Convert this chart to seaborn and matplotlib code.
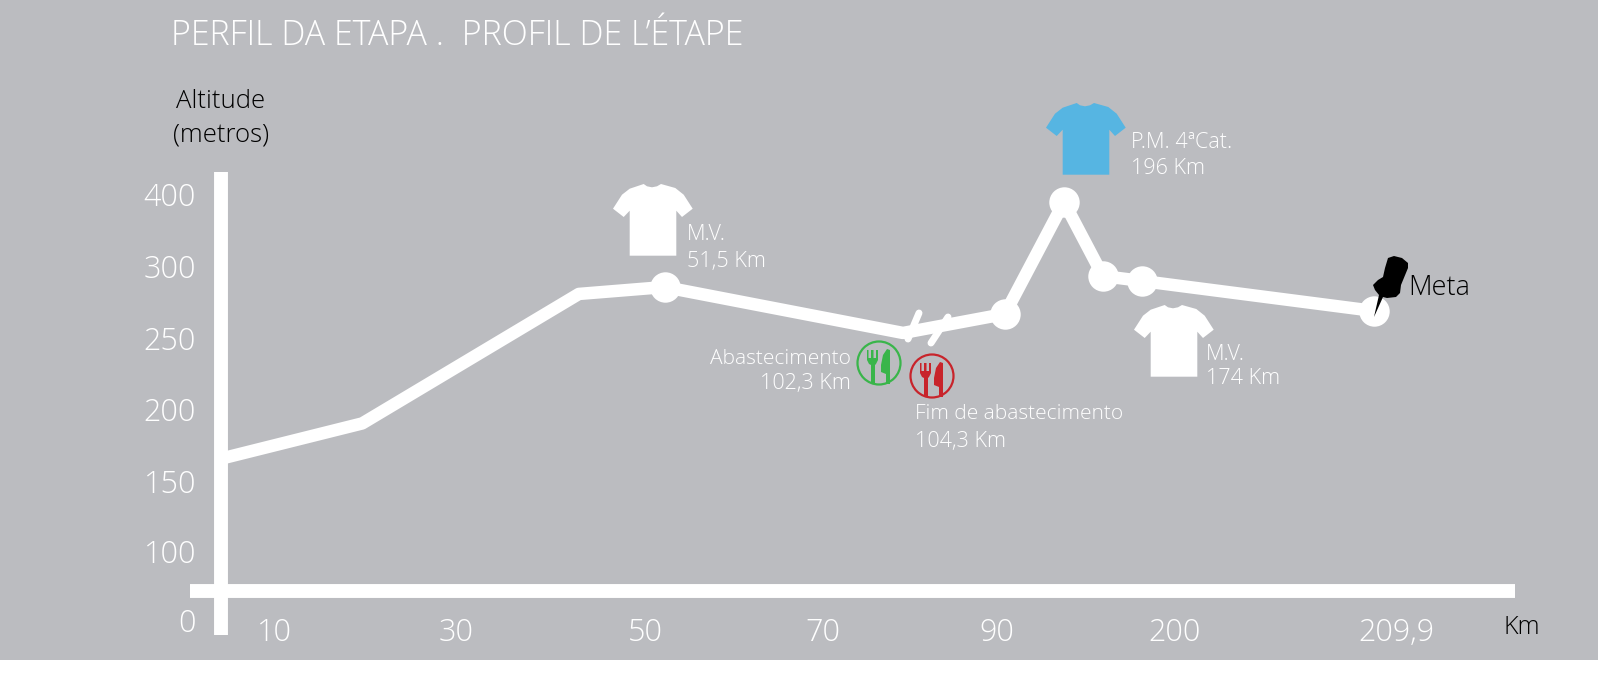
import matplotlib
matplotlib.use("Agg")
import matplotlib.pyplot as plt
import numpy as np
import pandas as pd
import seaborn as sns
from matplotlib.patches import Circle, Polygon
from matplotlib.transforms import Affine2D

# the printed axes are schematic: tick labels are not evenly spaced
x_ticks = [10, 30, 50, 70, 90, 200, 209.9]
x_labels = ["10", "30", "50", "70", "90", "200", "209,9"]
y_ticks = [0, 100, 150, 200, 250, 300, 400]
y_labels = ["0", "100", "150", "200", "250", "300", "400"]

route_km = [4.2, 19.7, 43.0, 52.2, 79.2, 94.9, 131.4, 155.5, 179.6, 208.9]
route_alt = [165.5, 190.0, 280.6, 285.4, 253.5, 266.7, 388.9, 293.0, 289.6, 268.8]
stop_km = [52.2, 94.9, 131.4, 155.5, 179.6, 208.9]
stop_alt = [285.4, 266.7, 388.9, 293.0, 289.6, 268.8]

BG = "#BBBCC0"
WHITE = "#FFFFFF"
GREEN = "#39B54A"
RED = "#C8242B"
BLUE = "#56B5E2"
TEXT_FONT = ["Open Sans", "DejaVu Sans"]

# where the ticks sit on the page, in pixels
x_knots = [-20, 10, 30, 50, 70, 90, 200, 209.9, 240]
x_pixels = [0, 274, 456, 645, 823, 997, 1175, 1396, 1598]
y_knots = [-100, 0, 100, 150, 200, 250, 300, 400, 700]
y_pixels = [0, 40, 109, 179, 251, 322, 394, 466, 660]


def x_forward(v):
    return np.interp(v, x_knots, x_pixels)


def x_inverse(v):
    return np.interp(v, x_pixels, x_knots)


def y_forward(v):
    return np.interp(v, y_knots, y_pixels)


def y_inverse(v):
    return np.interp(v, y_pixels, y_knots)


sns.set_theme(style="white")
plt.rcParams["font.family"] = TEXT_FONT
plt.rcParams["font.weight"] = 300

fig = plt.figure(figsize=(16, 6.75), dpi=100, facecolor="white")
ax = fig.add_axes([0, 15 / 675, 1598 / 1600, 660 / 675], facecolor=BG)
ax.set_xscale("function", functions=(x_forward, x_inverse))
ax.set_yscale("function", functions=(y_forward, y_inverse))

df = pd.DataFrame({"km": route_km, "alt": route_alt})
stops = pd.DataFrame({"km": stop_km, "alt": stop_alt})
sns.lineplot(data=df, x="km", y="alt", color=WHITE, linewidth=9, errorbar=None, ax=ax, zorder=3)
sns.scatterplot(data=stops, x="km", y="alt", color=WHITE, s=480, linewidth=0, ax=ax, zorder=4)

ax.set_xlim(-20, 240)
ax.set_ylim(-100, 700)
ax.set_xticks(x_ticks, x_labels)
ax.set_yticks(y_ticks, y_labels)
ax.minorticks_off()
ax.set_xlabel("")
ax.set_ylabel("")
ax.tick_params(axis="x", length=0, pad=19, labelsize=22, labelcolor=WHITE)
ax.tick_params(axis="y", length=0, pad=18, labelsize=22, labelcolor=WHITE)

ax.spines["top"].set_visible(False)
ax.spines["right"].set_visible(False)
ax.spines["left"].set_position(("data", 4.2))
ax.spines["left"].set_bounds(-37.5, 434)
ax.spines["bottom"].set_position(("data", 42))
ax.spines["bottom"].set_bounds(0.8, 227.6)
for side in ["left", "bottom"]:
    ax.spines[side].set_color(WHITE)
    ax.spines[side].set_linewidth(10)
    ax.spines[side].set_capstyle("butt")

# page pixels, y down, for the artwork around the chart
px = Affine2D().scale(1, -1).translate(0, 675)


def label(x, y, s, size=15, color=WHITE, ha="left"):
    ax.text(x, y, s, transform=px, fontsize=size, color=color, ha=ha, va="center", zorder=6)


def shape(points, color, dx=0, dy=0, zorder=5):
    ax.add_patch(Polygon(np.array(points) + [dx, dy], closed=True, facecolor=color, edgecolor="none",
                         transform=px, zorder=zorder))


label(171, 36, "PERFIL DA ETAPA .  PROFIL DE L’ÉTAPE", size=24.5)
label(221, 102, "Altitude", size=18.5, color="black", ha="center")
label(221, 135, "(metros)", size=18.5, color="black", ha="center")
label(1503, 628, "Km", size=18, color="black")
label(1408, 288, "Meta", size=19.5, color="black")

label(687, 235, "M.V.", size=15.5)
label(687, 261, "51,5 Km", size=15.5)
label(1131, 143, "P.M. 4ªCat.", size=15.5)
label(1131, 169, "196 Km", size=15.5)
label(1206, 354, "M.V.", size=15.5)
label(1206, 379, "174 Km", size=15.5)
label(851, 359, "Abastecimento", ha="right")
label(851, 384, "102,3 Km", ha="right", size=15.5)
label(915, 414, "Fim de abastecimento")
label(915, 441, "104,3 Km", size=15.5)

# t-shirts
shirt = [(30.7, 0), (34, 2.3), (39, 3.3), (44, 2.3), (48, 0), (62.3, 4), (70.7, 10.7), (79.7, 24.7), (69, 33),
         (63.3, 26.7), (63.3, 71.7), (16.7, 71.7), (16.7, 26.7), (10.7, 33), (0, 24.7), (9, 10.7), (16.7, 4.7)]
shape(shirt, WHITE, 613, 184)
shape(shirt, BLUE, 1046, 103)
shape(shirt, WHITE, 1134, 305)

# break marks on the feed zone
for x0, y0, x1, y1 in [(908, 339, 919, 313), (931, 343, 948, 317)]:
    ax.plot([x0, x1], [y0, y1], color=WHITE, lw=5, solid_capstyle="round", transform=px, zorder=5)

# feed zone icons
fork = [(-12, -13), (-10.5, -13), (-10.5, -5), (-8, -5), (-8, -13), (-5.5, -13), (-5.5, -5), (-3, -5),
        (-3, -13), (-1, -13), (-1, -3), (-3, 1), (-4, 2), (-4, 21), (-8, 21), (-8, 2), (-10, 1), (-12, -3)]
knife = [(8, -14), (11, -13), (11, 21), (7, 21), (7, 11), (2, 9), (2, 2), (4, -8)]
for cx, cy, color in [(879, 363, GREEN), (932, 376, RED)]:
    ax.add_patch(Circle((cx, cy), 21.5, facecolor="none", edgecolor=color, lw=1.6, transform=px, zorder=5))
    shape(fork, color, cx, cy)
    shape(knife, color, cx, cy)

# finish pin
pin = [(1388, 258), (1394, 256), (1402, 258), (1408, 263), (1408, 268), (1401, 285), (1400, 293), (1396, 297),
       (1387, 298), (1383, 297), (1374, 317), (1379, 295), (1375, 290), (1373, 285), (1378, 280), (1383, 277),
       (1385, 268)]
shape(pin, "black", zorder=7)

plt.savefig("out.png", dpi=100)
plt.close()
